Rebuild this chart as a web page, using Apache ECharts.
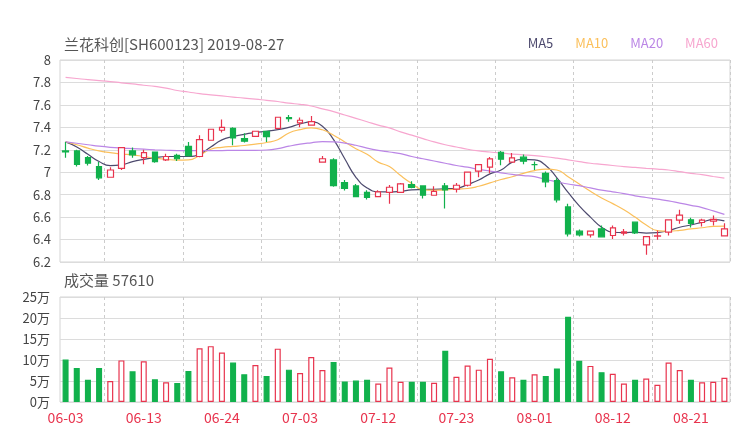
<!DOCTYPE html>
<html><head><meta charset="utf-8">
<script src="https://cdn.jsdelivr.net/npm/echarts@6/dist/echarts.min.js"></script>
<style>html,body{margin:0;padding:0;background:#fff}#c{width:740px;height:440px}</style>
</head><body><div id="c"></div>
<script>
const dates = ['06-03','06-04','06-05','06-06','06-10','06-11','06-12','06-13','06-14','06-17','06-18','06-19','06-20','06-21','06-24','06-25','06-26','06-27','06-28','07-01','07-02','07-03','07-04','07-05','07-08','07-09','07-10','07-11','07-12','07-15','07-16','07-17','07-18','07-19','07-22','07-23','07-24','07-25','07-26','07-29','07-30','07-31','08-01','08-02','08-05','08-06','08-07','08-08','08-09','08-12','08-13','08-14','08-15','08-16','08-19','08-20','08-21','08-22','08-23','08-27'];
const openP  = [7.19,7.19,7.13,7.05,6.955,7.035,7.19,7.13,7.18,7.11,7.15,7.23,7.14,7.285,7.374,7.39,7.30,7.32,7.365,7.39,7.487,7.44,7.42,7.09,7.11,6.908,6.878,6.82,6.783,6.82,6.82,6.89,6.878,6.795,6.878,6.85,6.884,7.009,7.045,7.178,7.09,7.134,7.068,6.99,6.926,6.691,6.475,6.442,6.496,6.436,6.457,6.555,6.353,6.43,6.466,6.573,6.576,6.552,6.564,6.433];
const closeP = [7.18,7.07,7.08,6.95,7.02,7.22,7.155,7.175,7.095,7.14,7.12,7.148,7.29,7.383,7.40,7.305,7.276,7.365,7.318,7.49,7.478,7.463,7.45,7.12,6.88,6.855,6.783,6.775,6.825,6.866,6.896,6.864,6.795,6.83,6.843,6.884,7.0,7.068,7.119,7.116,7.128,7.098,7.068,6.914,6.754,6.451,6.442,6.475,6.424,6.504,6.469,6.46,6.427,6.434,6.576,6.617,6.543,6.573,6.579,6.496];
const lowP   = [7.13,7.05,7.06,6.93,6.955,7.02,7.13,7.07,7.085,7.10,7.10,7.14,7.133,7.28,7.353,7.24,7.264,7.315,7.27,7.383,7.45,7.40,7.415,7.09,6.87,6.837,6.778,6.757,6.778,6.72,6.82,6.857,6.765,6.79,6.677,6.82,6.872,6.955,6.99,7.062,7.086,7.07,7.02,6.866,6.73,6.427,6.427,6.418,6.418,6.406,6.436,6.45,6.264,6.398,6.436,6.54,6.507,6.516,6.525,6.427];
const highP  = [7.27,7.20,7.145,7.09,7.045,7.22,7.22,7.20,7.185,7.165,7.165,7.27,7.33,7.385,7.47,7.40,7.347,7.37,7.368,7.495,7.51,7.487,7.50,7.145,7.125,6.93,6.896,6.84,6.84,6.887,6.905,6.92,6.885,6.875,6.905,6.905,7.006,7.074,7.136,7.19,7.172,7.157,7.095,7.006,6.947,6.718,6.49,6.475,6.525,6.525,6.493,6.556,6.427,6.48,6.582,6.665,6.594,6.585,6.614,6.546];
const volume = [101000,81000,53000,81000,50000,99000,73000,97000,54000,47000,45000,74000,128000,133000,118000,94000,66000,88000,62000,127000,77000,69000,107000,76000,95000,49000,51000,53000,44000,82000,48000,48000,48000,46000,122000,60000,87000,77000,103000,73000,59000,53000,66000,62000,80000,203000,98000,86000,71000,67000,44000,53000,56000,41000,94000,76000,53000,47000,48000,57610];
const ma5  = [7.27,7.225,7.16,7.095,7.058,7.065,7.095,7.115,7.13,7.14,7.14,7.14,7.16,7.225,7.288,7.318,7.338,7.353,7.365,7.38,7.40,7.43,7.448,7.41,7.29,7.12,6.955,6.86,6.826,6.824,6.83,6.842,6.845,6.848,6.852,6.857,6.89,6.93,6.985,7.02,7.09,7.115,7.11,7.06,6.95,6.82,6.70,6.60,6.51,6.465,6.462,6.465,6.458,6.462,6.48,6.51,6.53,6.555,6.578,6.567];
const ma10 = [7.27,7.245,7.215,7.19,7.175,7.162,7.155,7.14,7.125,7.115,7.108,7.11,7.15,7.205,7.222,7.23,7.238,7.25,7.265,7.29,7.35,7.38,7.395,7.378,7.33,7.27,7.21,7.16,7.09,7.05,6.97,6.90,6.845,6.84,6.842,6.85,6.855,6.875,6.905,6.935,6.96,6.99,7.015,7.028,7.02,6.96,6.895,6.83,6.77,6.72,6.665,6.60,6.53,6.48,6.475,6.482,6.495,6.505,6.518,6.52];
const ma20 = [7.27,7.258,7.245,7.232,7.222,7.215,7.21,7.205,7.2,7.196,7.193,7.193,7.193,7.193,7.193,7.195,7.195,7.195,7.198,7.21,7.232,7.25,7.262,7.272,7.27,7.26,7.24,7.215,7.195,7.18,7.165,7.14,7.12,7.10,7.08,7.06,7.045,7.025,7.01,6.995,6.98,6.97,6.96,6.935,6.915,6.895,6.88,6.86,6.84,6.825,6.81,6.79,6.775,6.76,6.745,6.725,6.705,6.685,6.655,6.625];
const ma60 = [7.845,7.835,7.825,7.817,7.808,7.797,7.787,7.775,7.765,7.75,7.728,7.715,7.70,7.69,7.68,7.67,7.66,7.652,7.64,7.63,7.615,7.605,7.59,7.565,7.54,7.51,7.48,7.45,7.42,7.395,7.36,7.33,7.30,7.27,7.245,7.225,7.205,7.19,7.18,7.17,7.162,7.155,7.148,7.138,7.125,7.11,7.095,7.08,7.07,7.06,7.05,7.043,7.035,7.028,7.02,7.005,6.99,6.978,6.962,6.947];
const titleText = '兰花科创[SH600123] 2019-08-27';
const volTitle = '成交量 57610';

const UP = '#e8344e', DOWN = '#11b14c';
const MA_COLORS = {MA5:'#4d4a6e', MA10:'#fbc05c', MA20:'#bb86e6', MA60:'#f7a6cf'};
const FONT = '"Noto Sans CJK SC","Noto Sans",sans-serif';

const kdata = openP.map((o,i)=>[o, closeP[i], lowP[i], highP[i]]);
const isUp = i => closeP[i] >= openP[i];
const volData = volume.map((v,i)=>({
  value:v,
  itemStyle: isUp(i) ? {color:'#ffffff', borderColor:UP, borderWidth:1.2}
                     : {color:DOWN, borderColor:DOWN, borderWidth:1.2}
}));

const chart = echarts.init(document.getElementById('c'), null, {renderer:'canvas'});
const splitIv = (idx) => idx % 7 === 4;
const maSeries = (name, data) => ({
  name, type:'line', data, xAxisIndex:0, yAxisIndex:0, smooth:true, symbol:'none',
  lineStyle:{width:1.2, color:MA_COLORS[name]}, itemStyle:{color:MA_COLORS[name]}, z:3, silent:true
});
chart.setOption({
  animation:false,
  textStyle:{fontFamily:FONT},
  title:[
    {text:titleText, left:64, top:37, padding:0, textStyle:{fontSize:15, fontWeight:'normal', color:'#555', fontFamily:FONT}},
    {text:volTitle, left:64, top:273, padding:0, textStyle:{fontSize:15, fontWeight:'normal', color:'#555', fontFamily:FONT}}
  ],
  legend:{
    right:22, top:37, icon:'none', itemWidth:0, itemHeight:10, itemGap:22, padding:0,
    textStyle:{fontSize:13, fontFamily:FONT, padding:[0,0,0,-5]},
    data:['MA5','MA10','MA20','MA60'].map(n=>({name:n, textStyle:{color:MA_COLORS[n]}}))
  },
  grid:[
    {left:60, right:10, top:60, height:202, show:true, borderColor:'#d4d4d4', borderWidth:1},
    {left:60, right:10, top:297, height:105, show:true, borderColor:'#d4d4d4', borderWidth:1}
  ],
  xAxis:[
    {type:'category', gridIndex:0, data:dates, boundaryGap:true,
     axisLine:{show:false}, axisTick:{show:false}, axisLabel:{show:false},
     splitLine:{show:true, interval:splitIv, lineStyle:{color:'#cccccc', type:[3,3], width:1}}},
    {type:'category', gridIndex:1, data:dates, boundaryGap:true,
     axisLine:{show:false}, axisTick:{show:false},
     axisLabel:{interval:(idx)=>idx%7===0, color:UP, fontSize:14, margin:9, fontFamily:FONT},
     splitLine:{show:true, interval:splitIv, lineStyle:{color:'#cccccc', type:[3,3], width:1}}}
  ],
  yAxis:[
    {type:'value', gridIndex:0, min:6.2, max:8, interval:0.2, scale:true,
     axisLine:{show:false}, axisTick:{show:false},
     axisLabel:{color:'#444', fontSize:13, margin:9, fontFamily:FONT},
     splitLine:{lineStyle:{color:'#dcdcdc', width:1}}},
    {type:'value', gridIndex:1, min:0, max:250000, interval:50000,
     axisLine:{show:false}, axisTick:{show:false},
     axisLabel:{color:'#444', fontSize:13, margin:10, fontFamily:FONT, formatter:v=>(v/10000)+'万'},
     splitLine:{lineStyle:{color:'#dcdcdc', width:1}}}
  ],
  series:[
    {name:'K', type:'candlestick', data:kdata, xAxisIndex:0, yAxisIndex:0, barWidth:6,
     itemStyle:{color:'#ffffff', color0:DOWN, borderColor:UP, borderColor0:DOWN, borderWidth:1.2}, z:4, silent:true},
    maSeries('MA5', ma5), maSeries('MA10', ma10), maSeries('MA20', ma20), maSeries('MA60', ma60),
    {name:'VOL', type:'bar', data:volData, xAxisIndex:1, yAxisIndex:1, barWidth:6, silent:true}
  ]
});
</script></body></html>
